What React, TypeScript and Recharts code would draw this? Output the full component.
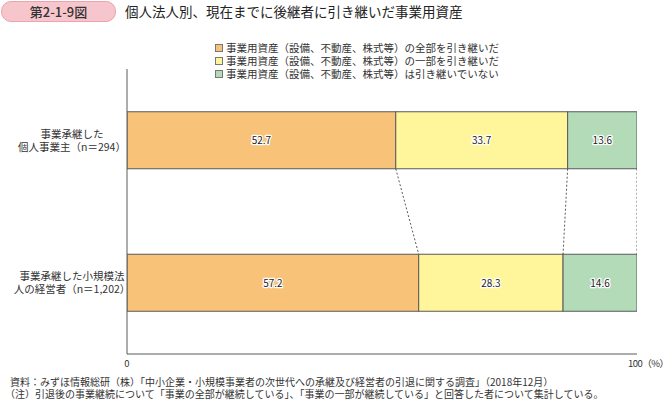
import React from 'react';
import { BarChart, Bar, XAxis, YAxis, LabelList } from 'recharts';

const categories = ['事業承継した\n個人事業主（n＝294）', '事業承継した小規模法\n人の経営者（n＝1,202）'];
const seriesNames = [
  '事業用資産（設備、不動産、株式等）の全部を引き継いだ',
  '事業用資産（設備、不動産、株式等）の一部を引き継いだ',
  '事業用資産（設備、不動産、株式等）は引き継いでいない',
];
const allValues = [52.7, 57.2];
const partValues = [33.7, 28.3];
const noneValues = [13.6, 14.6];
const xTicks = [0, 100];
const rowTicks = [0, 1, 2];

const seriesKeys = ['all', 'part', 'none'];
const colors = ['#f9c279', '#fff69b', '#b3dbb8'];
const FONT = '"Noto Sans CJK JP", "Noto Sans", sans-serif';
const EDGE = '#5a5a5a';
const GAP = 0.3;

const data = categories.map((name, i) => ({
  name,
  all: allValues[i],
  part: partValues[i],
  none: noneValues[i],
}));

const CategoryTick = (props: any) => {
  const { x, y, payload } = props;
  const lines = String(payload.value).split('\n');
  return (
    <g>
      {lines.map((l, i) => (
        <text
          key={i}
          x={x - 55}
          y={y + (i - (lines.length - 1) / 2) * 13 + 4}
          textAnchor="middle"
          fontSize={10.5}
          fill="#333"
          fontFamily={FONT}
        >
          {l}
        </text>
      ))}
    </g>
  );
};

const PercentTick = (props: any) => {
  const { x, y, payload } = props;
  const isLast = payload.value === xTicks[xTicks.length - 1];
  return (
    <g fontFamily={FONT} fontSize={9.5} fill="#333">
      {isLast ? (
        <text x={x - 9} y={y + 4} textAnchor="start" letterSpacing={-0.5}>{`${payload.value}（%）`}</text>
      ) : (
        <text x={x} y={y + 4} textAnchor="middle">{payload.value}</text>
      )}
    </g>
  );
};

const ValueLabel = (p: any) => {
  const vb = p.viewBox || p;
  const cx = vb.x + vb.width / 2;
  const cy = vb.y + vb.height / 2;
  return (
    <text
      x={cx}
      y={cy + 4}
      textAnchor="middle"
      fontSize={10}
      fontFamily={FONT}
      fill="#222"
      stroke="#fff"
      strokeWidth={2.5}
      paintOrder="stroke"
      strokeLinejoin="round"
    >
      {Number(p.value).toFixed(1)}
    </text>
  );
};

export default function App() {
  // right/bottom corner of each segment in the first row, used for the dotted connectors
  const topEdges: Record<string, { x: number; y: number }> = {};
  const makeShape = (key: string) => (props: any) => {
    const { x, y, width, height, index, fill } = props;
    const right = x + width;
    let conn = null;
    if (index === 0) {
      topEdges[key] = { x: right, y: y + height };
    } else if (topEdges[key]) {
      conn = (
        <line
          x1={topEdges[key].x}
          y1={topEdges[key].y}
          x2={right}
          y2={y}
          stroke={EDGE}
          strokeWidth={1}
          strokeDasharray="2 2"
        />
      );
    }
    return (
      <g>
        <rect x={x} y={y} width={width} height={height} fill={fill} stroke={EDGE} strokeWidth={1} />
        {conn}
      </g>
    );
  };

  return (
    <div style={{ position: 'absolute', left: 0, top: 0, width: 669, height: 400, background: '#fff', fontFamily: FONT }}>
      <div
        style={{
          position: 'absolute',
          left: 1,
          top: 1,
          width: 113,
          height: 19,
          borderRadius: 10,
          background: '#f6c6cc',
          border: '1px solid #eba3ad',
          textAlign: 'center',
          fontSize: 13,
          lineHeight: '19px',
          color: '#333',
          fontWeight: 500,
        }}
      >
        第2-1-9図
      </div>
      <div style={{ position: 'absolute', left: 125, top: 2, fontSize: 13.5, lineHeight: '19px', color: '#222' }}>
        個人法人別、現在までに後継者に引き継いだ事業用資産
      </div>

      <BarChart
        width={669}
        height={400}
        data={data}
        layout="vertical"
        barCategoryGap={`${GAP * 100}%`}
        margin={{ top: 69, right: 32, left: 0, bottom: 26 }}
        style={{ position: 'absolute', left: 0, top: 0 }}
      >
        <XAxis
          type="number"
          domain={[0, 100]}
          ticks={xTicks}
          allowDataOverflow
          axisLine={{ stroke: EDGE }}
          tickLine={false}
          tickSize={0}
          tickMargin={9}
          height={20}
          tick={<PercentTick />}
        />
        <XAxis
          xAxisId="t"
          type="number"
          domain={[0, 100]}
          ticks={xTicks}
          allowDataOverflow
          mirror
          axisLine={false}
          tick={false}
          tickLine={{ stroke: EDGE }}
          tickSize={4}
        />
        <YAxis
          type="category"
          dataKey="name"
          width={127}
          axisLine={{ stroke: EDGE }}
          tickLine={false}
          tickSize={0}
          tickMargin={0}
          tick={<CategoryTick />}
        />
        <YAxis
          yAxisId="c"
          type="number"
          domain={[0, 2]}
          ticks={rowTicks}
          allowDataOverflow
          reversed
          mirror
          axisLine={false}
          tick={false}
          tickLine={{ stroke: EDGE }}
          tickSize={4}
        />
        {seriesKeys.map((k, i) => (
          <Bar
            key={k}
            dataKey={k}
            name={seriesNames[i]}
            stackId="s"
            fill={colors[i]}
            shape={makeShape(k)}
            isAnimationActive={false}
          >
            <LabelList dataKey={k} content={<ValueLabel />} />
          </Bar>
        ))}
      </BarChart>

      <div style={{ position: 'absolute', left: 215, top: 41, fontSize: 10.5, lineHeight: '13px', color: '#333' }}>
        {seriesNames.map((n, i) => (
          <div key={n} style={{ display: 'flex', alignItems: 'center', whiteSpace: 'nowrap' }}>
            <span
              style={{
                display: 'inline-block',
                width: 6,
                height: 6,
                background: colors[i],
                border: '1px solid #777',
                marginRight: 3,
              }}
            />
            <span>{n}</span>
          </div>
        ))}
      </div>

      <div style={{ position: 'absolute', left: 10, top: 376, fontSize: 10, lineHeight: '12px', color: '#333', whiteSpace: 'nowrap' }}>
        資料：みずほ情報総研（株）「中小企業・小規模事業者の次世代への承継及び経営者の引退に関する調査」（2018年12月）
      </div>
      <div style={{ position: 'absolute', left: 5, top: 388, fontSize: 10, lineHeight: '12px', color: '#333', whiteSpace: 'nowrap' }}>
        （注）引退後の事業継続について「事業の全部が継続している」、「事業の一部が継続している」と回答した者について集計している。
      </div>
    </div>
  );
}
